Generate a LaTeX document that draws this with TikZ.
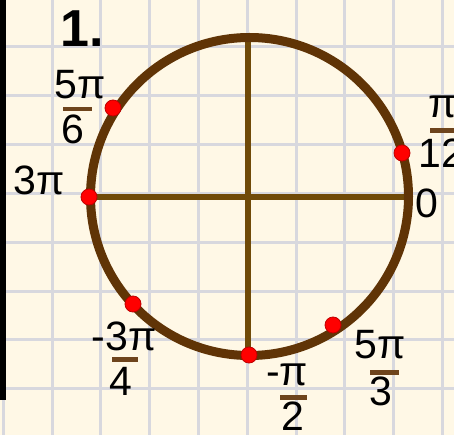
\documentclass[tikz,border=0pt]{standalone}
\usepackage{fontspec}
\setmainfont{Liberation Sans}
\begin{document}
\begin{tikzpicture}[x=1pt,y=-1pt,
  lbl/.style={font=\fontsize{41}{41}\selectfont, text=black, inner sep=0pt, anchor=base},
  numlbl/.style={lbl},
  fracbar/.style={draw=barcol, line width=4.5pt},
  dotnode/.style={circle, fill=red, draw=red!75!black, line width=0.8pt, minimum size=16pt, inner sep=0pt},
  gridline/.style={draw=gridcol, line width=3pt},
  axis/.style={draw=axiscol, line width=6pt},
  rim/.style={draw=rimcol, line width=9pt}]
\definecolor{bgcol}{RGB}{255,248,230}
\definecolor{gridcol}{RGB}{216,216,222}
\definecolor{rimcol}{RGB}{96,52,6}
\definecolor{axiscol}{RGB}{112,74,8}
\definecolor{barcol}{RGB}{110,68,28}
\useasboundingbox (0,0) rectangle (454,435);
\clip (0,0) rectangle (454,435);
\fill[bgcol] (0,0) rectangle (454,435);
% grid
\foreach \k in {0,...,9} {
  \draw[gridline] ({3.2+48.8*\k},0) -- ({3.2+48.8*\k},435);
  \draw[gridline] (0,{-1.8+48.8*\k}) -- (454,{-1.8+48.8*\k});
}
% left black bar
\fill[black] (0,0) rectangle (6,400);
% axes
\coordinate (L) at (89,197);
\coordinate (R) at (409,197);
\coordinate (T) at (248,38);
\coordinate (B) at (248,355);
\draw[axis] (L) -- (R);
\draw[axis] (T) -- (B);
% circle
\coordinate (O) at (249.5,196.5);
\draw[rim] (O) circle[radius=159];
% points
\node[dotnode] (p56) at (113,108) {};
\node[dotnode] (p12) at (402,153) {};
\node[dotnode] (p3) at (89,197) {};
\node[dotnode] (pm34) at (133,304) {};
\node[dotnode] (pm2) at (249,355) {};
\node[dotnode] (p53) at (333,325) {};
% title
\node[lbl, font=\fontsize{52}{52}\selectfont\bfseries] (title) at (82,47) {1.};
% 5pi/6
\node[numlbl] (n56) at (80,99) {5π};
\draw[fracbar] (63,109) -- (92,109);
\node[numlbl] (d56) at (73,144) {6};
% 3pi
\node[numlbl] (n3) at (39,195) {3π};
% pi/12
\node[numlbl] (n12) at (443,118) {π};
\draw[fracbar] (430,130.5) -- (460,130.5);
\node[numlbl] (d12) at (441,168) {12};
% 0
\node[numlbl] (z0) at (427,218) {0};
% -3pi/4
\node[numlbl] (nm34) at (124,350) {-3π};
\draw[fracbar] (112,359.5) -- (138,359.5);
\node[numlbl] (dm34) at (121,395) {4};
% -pi/2
\node[numlbl] (nm2) at (287,385) {-π};
\draw[fracbar] (280,397.5) -- (307,397.5);
\node[numlbl] (dm2) at (293,430) {2};
% 5pi/3
\node[numlbl] (n53) at (380,358) {5π};
\draw[fracbar] (370,372.5) -- (399,372.5);
\node[numlbl] (d53) at (381,405) {3};
\end{tikzpicture}
\end{document}
